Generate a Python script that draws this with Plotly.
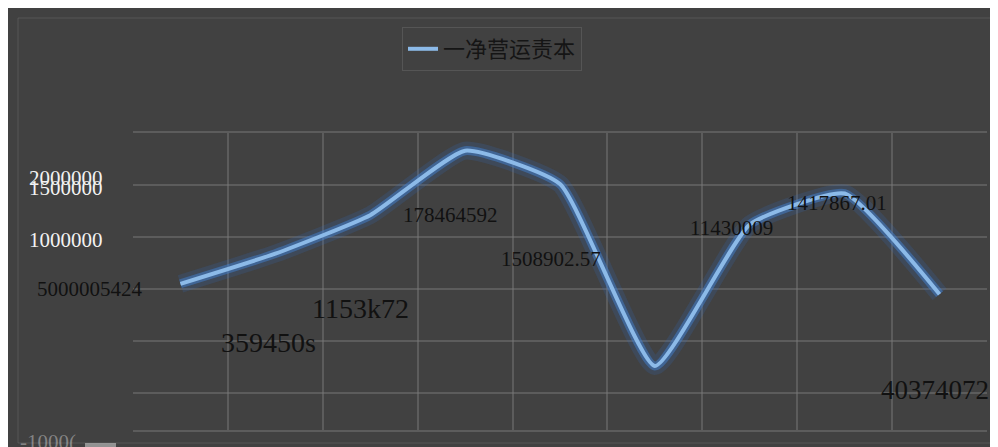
import plotly.graph_objects as go

# ---- data ----
categories = [0, 1, 2, 3, 4, 5, 6, 7, 8]
series_name = "一净营运责本"
values = [550000, 840000, 1210000, 1830000, 1508902.57, -240000, 1120000, 1417867.01, 450000]

black_labels = ["5000005424", "1153k72", "359450s", "178464592", "1508902.57",
                "11430009", "1417867.01", "40374072"]
white_labels = ["2000000", "1500000", "1000000"]
faint_label = "-1000("

# ---- layout geometry (page pixels) ----
OFF = 8                      # browser body margin
PAGE_W, PAGE_H = 998, 447
W, H = PAGE_W - OFF, PAGE_H - OFF
PL, PR, PT, PB = 133, 987, 133, 430   # plot area in page pixels
PW, PH = PR - PL, PB - PT


def px(x):
    return (x - PL) / PW


def py(y):
    return (PB - y) / PH


# y scale: 0 at pixel 341, 500000 per 52 px
y_top = (341 - PT) / 52 * 500000
y_bot = (341 - PB) / 52 * 500000

SM = 0.45
fig = go.Figure()
fig.add_trace(go.Scatter(x=categories, y=values, mode="lines",
                         line=dict(color="rgba(50,110,200,0.18)", width=18, shape="spline", smoothing=SM),
                         showlegend=False, hoverinfo="skip"))
fig.add_trace(go.Scatter(x=categories, y=values, mode="lines",
                         line=dict(color="rgba(65,130,210,0.5)", width=9, shape="spline", smoothing=SM),
                         showlegend=False, hoverinfo="skip"))
fig.add_trace(go.Scatter(x=categories, y=values, mode="lines", name=series_name,
                         line=dict(color="rgb(140,186,232)", width=4, shape="spline", smoothing=SM),
                         showlegend=True))

grid_col = "rgba(120,120,120,0.5)"

annotations = []
black_pos = [(90, 289, 21), (360, 308, 28), (268, 342, 28), (450, 215, 21),
             (551, 259, 21), (731, 228, 21), (837, 203, 21), (935, 390, 27)]
for txt, (x, y, s) in zip(black_labels, black_pos):
    annotations.append(dict(text=txt, x=px(x), y=py(y), xref="paper", yref="paper",
                            showarrow=False, xanchor="center", yanchor="middle",
                            font=dict(family="Liberation Serif", size=s, color="#111111")))
white_pos = [(66, 178, 21), (66, 188, 21), (66, 240, 21)]
for txt, (x, y, s) in zip(white_labels, white_pos):
    annotations.append(dict(text=txt, x=px(x), y=py(y), xref="paper", yref="paper",
                            showarrow=False, xanchor="center", yanchor="middle",
                            font=dict(family="Liberation Serif", size=s, color="#f2f2f2")))
annotations.append(dict(text=faint_label, x=px(48), y=py(442), xref="paper", yref="paper",
                        showarrow=False, xanchor="center", yanchor="middle",
                        font=dict(family="Liberation Serif", size=21, color="rgba(190,190,190,0.55)")))

shapes = [
    dict(type="rect", xref="paper", yref="paper", x0=px(18), x1=px(992), y0=py(443), y1=py(18),
         line=dict(color="rgba(110,110,110,0.5)", width=1), layer="below"),
    dict(type="rect", xref="paper", yref="paper", x0=px(85), x1=px(116), y0=py(449), y1=py(443),
         line=dict(width=0), fillcolor="rgba(200,200,200,0.6)", layer="above"),
]

fig.update_layout(
    width=W, height=H,
    margin=dict(l=PL - OFF, r=PAGE_W - PR, t=PT - OFF, b=PAGE_H - PB, pad=0),
    paper_bgcolor="rgb(65,65,65)",
    plot_bgcolor="rgb(65,65,65)",
    showlegend=True,
    legend=dict(orientation="h", x=px(402), y=py(27), xanchor="left", yanchor="top",
                font=dict(family="Noto Sans CJK SC", size=22, color="#151515"),
                bgcolor="rgba(0,0,0,0)", bordercolor="rgba(110,110,110,0.45)", borderwidth=1),
    xaxis=dict(range=[-0.5, 8.5], tickvals=[i - 0.5 for i in range(10)], showticklabels=False,
               showgrid=True, gridcolor=grid_col, gridwidth=1.5, zeroline=False,
               showline=True, linecolor=grid_col, linewidth=1.5, mirror=True, ticks=""),
    yaxis=dict(range=[y_bot, y_top], dtick=500000, tick0=0, showticklabels=False,
               showgrid=True, gridcolor=grid_col, gridwidth=1.5, zeroline=False,
               showline=False, ticks=""),
    annotations=annotations,
    shapes=shapes,
)

fig.write_html("out.html")
